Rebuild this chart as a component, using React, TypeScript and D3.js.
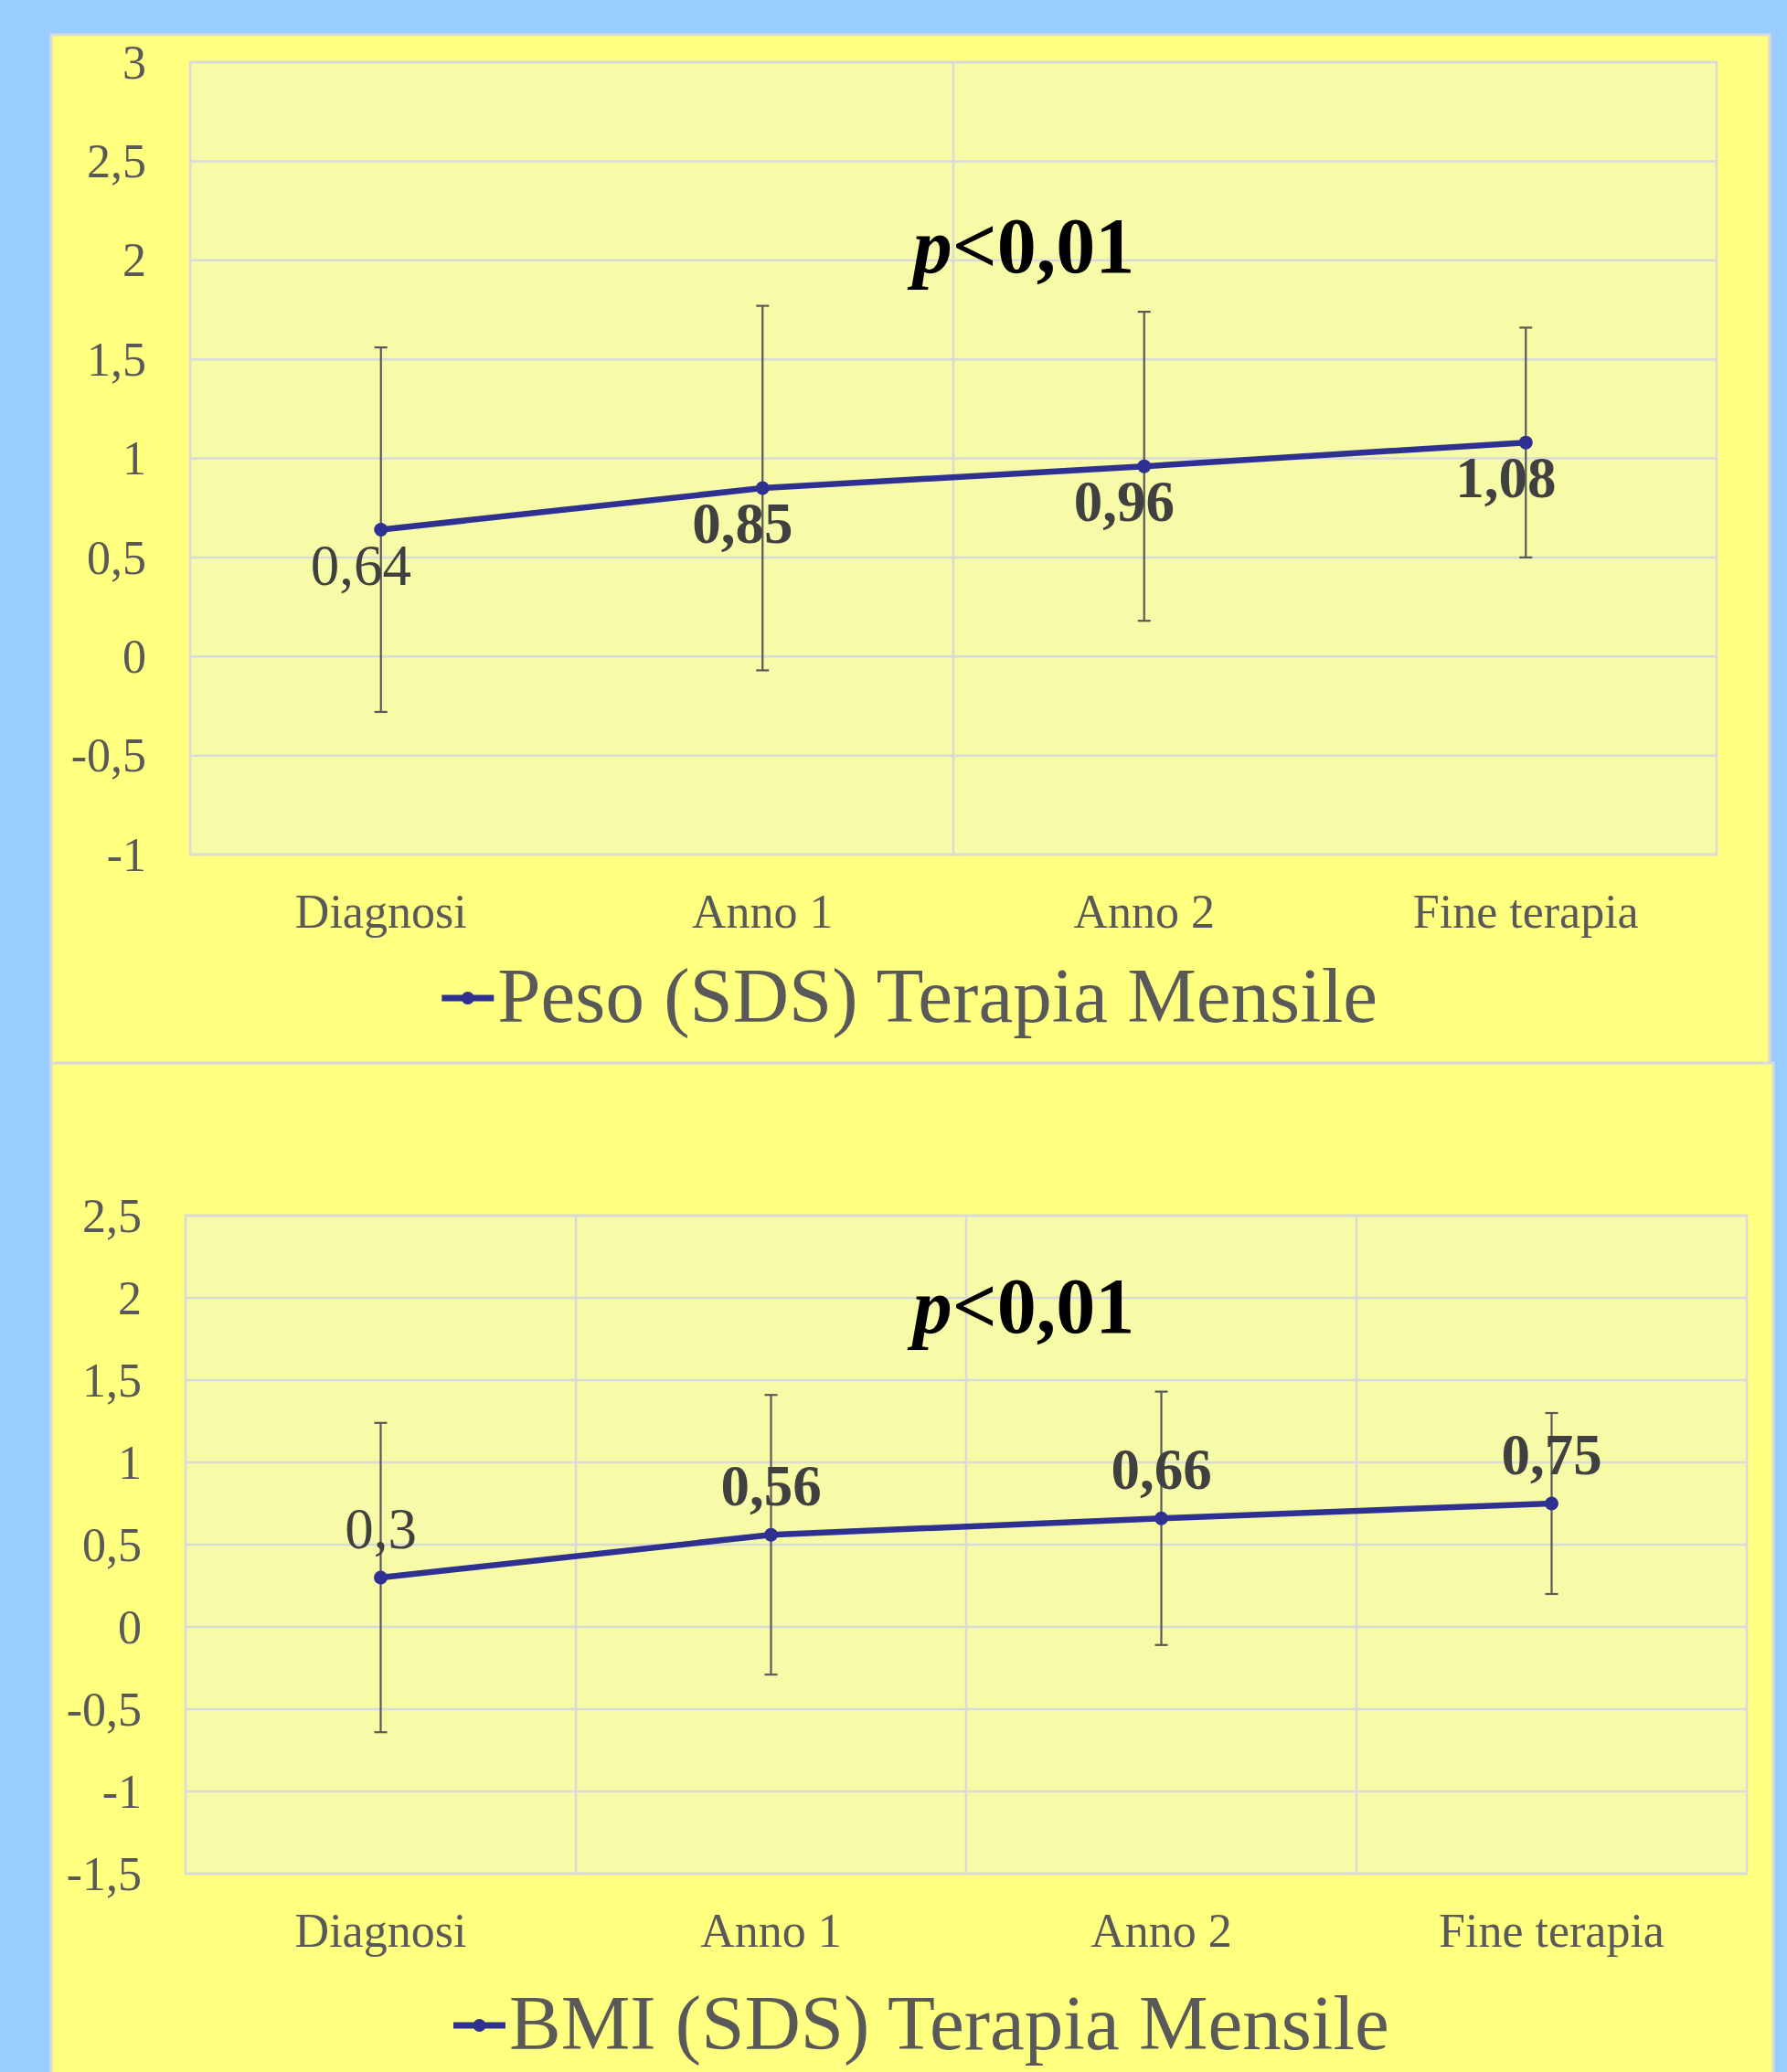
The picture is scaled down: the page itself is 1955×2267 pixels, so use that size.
import React from "react";
import * as d3 from "d3";

const categories = ["Diagnosi", "Anno 1", "Anno 2", "Fine terapia"];

const pesoMean = [0.64, 0.85, 0.96, 1.08];
const pesoSD = [0.92, 0.92, 0.78, 0.58];
const pesoTicks = [-1, -0.5, 0, 0.5, 1, 1.5, 2, 2.5, 3];
const pesoBold = [false, true, true, true];
const pesoLegend = "Peso (SDS) Terapia Mensile";

const bmiMean = [0.3, 0.56, 0.66, 0.75];
const bmiSD = [0.94, 0.85, 0.77, 0.55];
const bmiTicks = [-1.5, -1, -0.5, 0, 0.5, 1, 1.5, 2, 2.5];
const bmiBold = [false, true, true, true];
const bmiLegend = "BMI (SDS) Terapia Mensile";

const pText = "<0,01";

const W = 1955;
const H = 2267;
const FONT = "'Liberation Serif', 'Times New Roman', serif";
const LINE = "#2E3192";
const GRID = "#D9D9D9";
const PANEL = "#FFFF80";
const PLOT = "#F7FAA7";
const TICK = "#595959";
const LABEL = "#404040";

const fmt = (v: number) => String(v).replace(".", ",");

type ChartProps = {
  left: number;
  right: number;
  top: number;
  bottom: number;
  ticks: number[];
  mean: number[];
  sd: number[];
  bold: boolean[];
  legend: string;
  vGridEvery: number;
  labelBelow: boolean;
  pX: number;
  pY: number;
  legendY: number;
  panelCenter: number;
};

function Chart(p: ChartProps) {
  const x = d3.scaleBand<string>().domain(categories).range([p.left, p.right]).padding(0);
  const y = d3
    .scaleLinear()
    .domain([d3.min(p.ticks) as number, d3.max(p.ticks) as number])
    .range([p.bottom, p.top]);
  const cx = (c: string) => (x(c) as number) + x.bandwidth() / 2;
  const pts: [number, number][] = categories.map((c, i) => [cx(c), y(p.mean[i])]);
  const line = d3.line()(pts) as string;

  const vGrid: number[] = [];
  categories.forEach((c, i) => {
    if (i > 0 && i % p.vGridEvery === 0) vGrid.push(x(c) as number);
  });

  const legendFont = 85;
  const markerW = 57;
  const approxText = p.legend.length * legendFont * 0.44;
  const legendStart = p.panelCenter - (markerW + 4 + approxText) / 2;

  return (
    <g>
      <rect x={p.left} y={p.top} width={p.right - p.left} height={p.bottom - p.top} fill={PLOT} />
      {p.ticks.map((t) => (
        <line key={"h" + t} x1={p.left} x2={p.right} y1={y(t)} y2={y(t)} stroke={GRID} strokeWidth={2.5} />
      ))}
      {vGrid.map((vx) => (
        <line key={"v" + vx} x1={vx} x2={vx} y1={p.top} y2={p.bottom} stroke={GRID} strokeWidth={2.5} />
      ))}
      <rect x={p.left} y={p.top} width={p.right - p.left} height={p.bottom - p.top} fill="none" stroke={GRID} strokeWidth={2.5} />
      {p.ticks.map((t) => (
        <text key={"t" + t} x={p.left - 48} y={y(t)} dy="0.34em" textAnchor="end" fontFamily={FONT} fontSize={52} fill={TICK}>
          {fmt(t)}
        </text>
      ))}
      {categories.map((c) => (
        <text key={"c" + c} x={cx(c)} y={p.bottom + 80} textAnchor="middle" fontFamily={FONT} fontSize={52} fill={TICK}>
          {c}
        </text>
      ))}
      {categories.map((c, i) => {
        const hi = y(p.mean[i] + p.sd[i]);
        const lo = y(p.mean[i] - p.sd[i]);
        const xx = cx(c);
        return (
          <g key={"e" + c} stroke={TICK} strokeWidth={2.2}>
            <line x1={xx} x2={xx} y1={hi} y2={lo} />
            <line x1={xx - 7} x2={xx + 7} y1={hi} y2={hi} />
            <line x1={xx - 7} x2={xx + 7} y1={lo} y2={lo} />
          </g>
        );
      })}
      <path d={line} fill="none" stroke={LINE} strokeWidth={6.5} strokeLinejoin="round" />
      {pts.map(([px, py], i) => (
        <circle key={"p" + i} cx={px} cy={py} r={7.5} fill={LINE} />
      ))}
      {pts.map(([px, py], i) => (
        <text
          key={"l" + i}
          x={p.labelBelow ? px - 22 : px}
          y={p.labelBelow ? py + 60 : py - 32}
          textAnchor="middle"
          fontFamily={FONT}
          fontSize={63}
          fontWeight={p.bold[i] ? "bold" : "normal"}
          fill={LABEL}
        >
          {fmt(p.mean[i])}
        </text>
      ))}
      <text x={p.pX} y={p.pY} textAnchor="middle" fontFamily={FONT} fontSize={86} fontWeight="bold" fill="#000">
        <tspan fontStyle="italic">p</tspan>
        <tspan>{pText}</tspan>
      </text>
      <g>
        <line x1={legendStart} x2={legendStart + markerW} y1={p.legendY - 26} y2={p.legendY - 26} stroke={LINE} strokeWidth={7} />
        <circle cx={legendStart + markerW / 2} cy={p.legendY - 26} r={7} fill={LINE} />
        <text x={legendStart + markerW + 4} y={p.legendY} fontFamily={FONT} fontSize={legendFont} fill={TICK}>
          {p.legend}
        </text>
      </g>
    </g>
  );
}

export default function App() {
  return (
    <svg
      width={W}
      height={H}
      viewBox={`0 0 ${W} ${H}`}
      style={{ position: "absolute", left: 0, top: 0, display: "block" }}
    >
      <rect x={0} y={0} width={W} height={H} fill="#99CCFF" />
      <rect x={56} y={1163} width={1884} height={H - 1163 + 10} fill={PANEL} stroke={GRID} strokeWidth={3} />
      <rect x={56} y={38} width={1880} height={1125} fill={PANEL} stroke={GRID} strokeWidth={3} />
      <Chart
        left={208}
        right={1878}
        top={68}
        bottom={935}
        ticks={pesoTicks}
        mean={pesoMean}
        sd={pesoSD}
        bold={pesoBold}
        legend={pesoLegend}
        vGridEvery={2}
        labelBelow={true}
        pX={1120}
        pY={298}
        legendY={1118}
        panelCenter={1000}
      />
      <Chart
        left={203}
        right={1911}
        top={1330}
        bottom={2050}
        ticks={bmiTicks}
        mean={bmiMean}
        sd={bmiSD}
        bold={bmiBold}
        legend={bmiLegend}
        vGridEvery={1}
        labelBelow={false}
        pX={1120}
        pY={1458}
        legendY={2242}
        panelCenter={994}
      />
    </svg>
  );
}
